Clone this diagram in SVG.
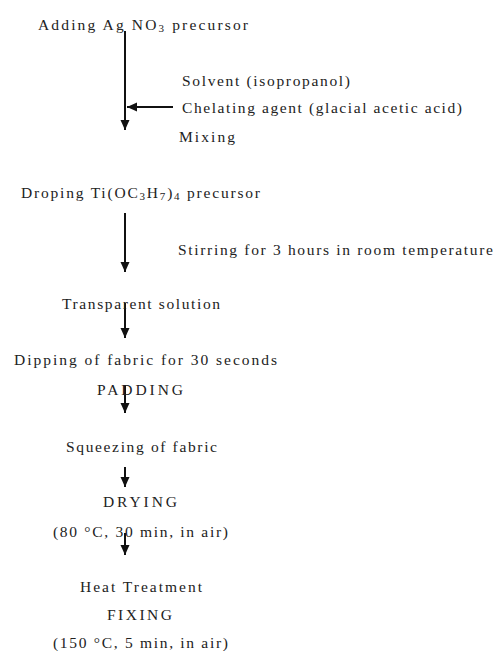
<svg xmlns="http://www.w3.org/2000/svg" width="494" height="651" viewBox="0 0 494 651">
<style>
text{font-family:"Liberation Serif","Times New Roman",serif;font-size:15.5px;fill:#222}
.sub{font-size:11px}
.ln{stroke:#111;stroke-width:2;fill:none}
</style>
<defs>
<marker id="ah" markerUnits="userSpaceOnUse" markerWidth="10" markerHeight="10" viewBox="0 0 10 10" refX="10" refY="5" orient="auto">
<path d="M0,0.5 L10,5 L0,9.5 Z" fill="#111"/>
</marker>
</defs>
<rect width="494" height="651" fill="#fff"/>
<g id="connectors">
<line class="ln" x1="125" y1="31" x2="125" y2="130" marker-end="url(#ah)"/>
<line class="ln" x1="173" y1="107" x2="127" y2="107" marker-end="url(#ah)"/>
<line class="ln" x1="125" y1="213" x2="125" y2="272" marker-end="url(#ah)"/>
<line class="ln" x1="125" y1="303" x2="125" y2="338" marker-end="url(#ah)"/>
<line class="ln" x1="125" y1="385" x2="125" y2="413" marker-end="url(#ah)"/>
<line class="ln" x1="125" y1="467" x2="125" y2="487" marker-end="url(#ah)"/>
<line class="ln" x1="125" y1="533" x2="125" y2="555" marker-end="url(#ah)"/>
</g>
<g id="n1"><text x="38" y="30" textLength="210" lengthAdjust="spacing">Adding Ag NO<tspan class="sub" dy="2">3</tspan><tspan dy="-2"> precursor</tspan></text></g>
<g id="n2"><text x="182" y="86" textLength="168" lengthAdjust="spacing">Solvent (isopropanol)</text></g>
<g id="n3"><text x="182" y="113" textLength="280" lengthAdjust="spacing">Chelating agent (glacial acetic acid)</text></g>
<g id="n4"><text x="179" y="142" textLength="56" lengthAdjust="spacing">Mixing</text></g>
<g id="n5"><text x="21" y="198" textLength="239" lengthAdjust="spacing">Droping Ti(OC<tspan class="sub" dy="2">3</tspan><tspan dy="-2">H</tspan><tspan class="sub" dy="2">7</tspan><tspan dy="-2">)</tspan><tspan class="sub" dy="2">4</tspan><tspan dy="-2"> precursor</tspan></text></g>
<g id="n6"><text x="178" y="255" textLength="315" lengthAdjust="spacing">Stirring for 3 hours in room temperature</text></g>
<g id="n7"><text x="62" y="309" textLength="158" lengthAdjust="spacing">Transparent solution</text></g>
<g id="n8"><text x="14" y="365" textLength="263" lengthAdjust="spacing">Dipping of fabric for 30 seconds</text></g>
<g id="n9"><text x="97" y="395" textLength="86" lengthAdjust="spacing">PADDING</text></g>
<g id="n10"><text x="66" y="452" textLength="151" lengthAdjust="spacing">Squeezing of fabric</text></g>
<g id="n11"><text x="103" y="507" textLength="74" lengthAdjust="spacing">DRYING</text></g>
<g id="n12"><text x="53" y="537" textLength="175" lengthAdjust="spacing">(80 °C, 30 min, in air)</text></g>
<g id="n13"><text x="80" y="592" textLength="122" lengthAdjust="spacing">Heat Treatment</text></g>
<g id="n14"><text x="107" y="620" textLength="65" lengthAdjust="spacing">FIXING</text></g>
<g id="n15"><text x="53" y="648" textLength="175" lengthAdjust="spacing">(150 °C, 5 min, in air)</text></g>
</svg>
